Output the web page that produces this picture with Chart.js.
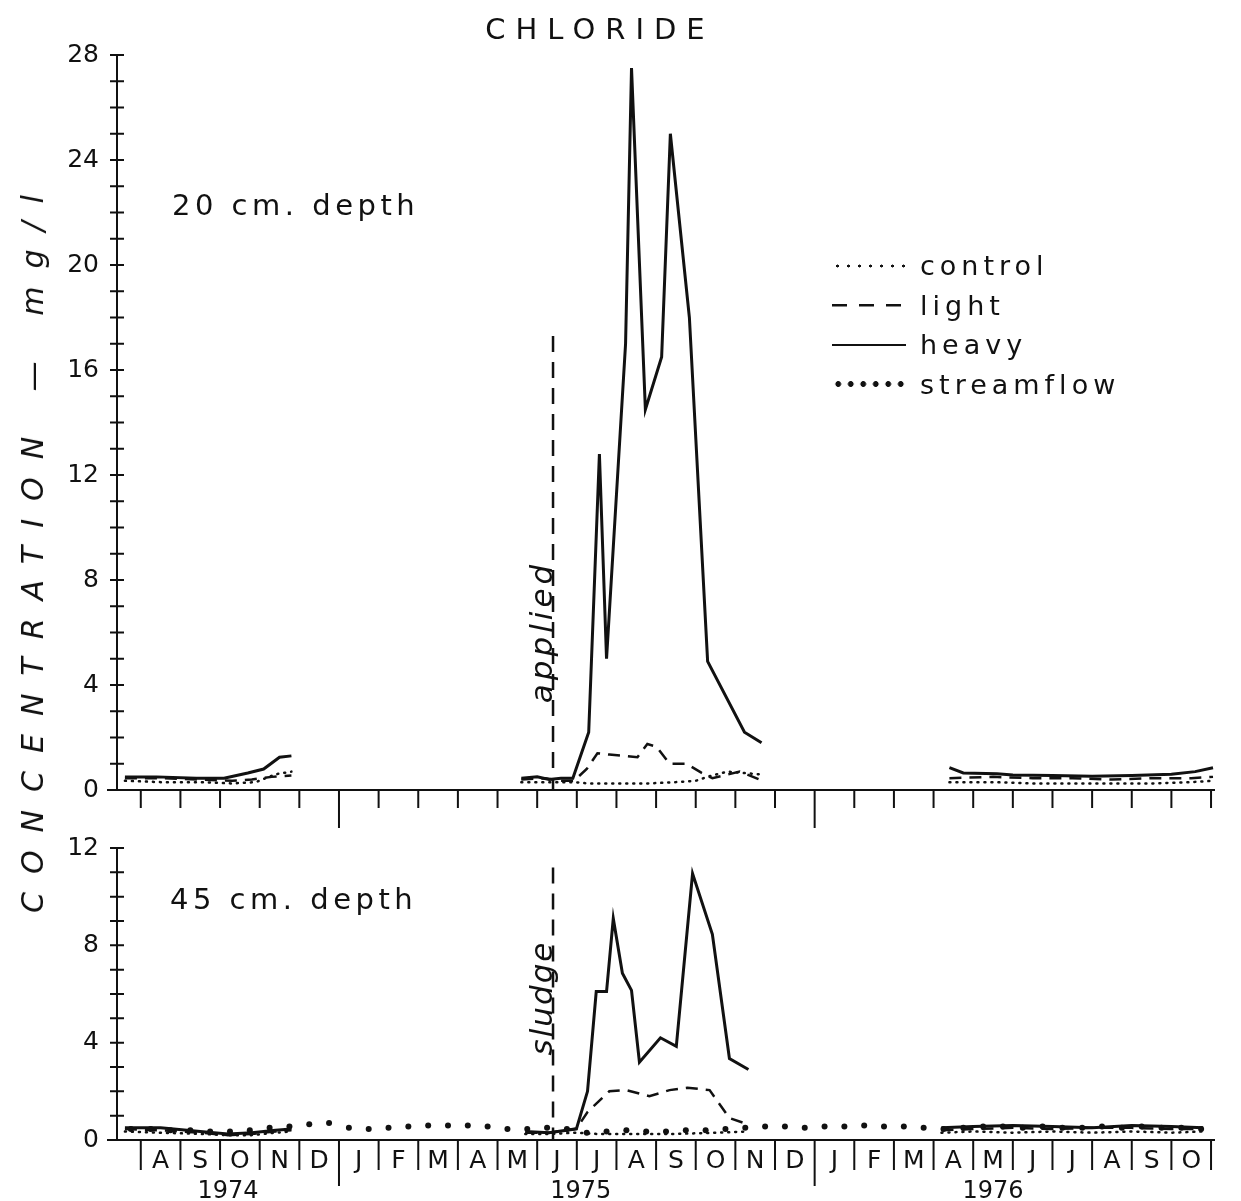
<!DOCTYPE html>
<html>
<head>
<meta charset="utf-8">
<title>Chloride</title>
<script src="https://cdn.jsdelivr.net/npm/chart.js@4.4.1/dist/chart.umd.min.js"></script>
<style>
	body { margin: 0; background: #fff; width: 1241px; height: 1201px; position: relative; overflow: hidden; font-family: 'DejaVu Sans', sans-serif; color: #111; }
	canvas { position: absolute; left: 0; }
	#chart20 { top: 0; }
	#chart45 { top: 815px; }
	.txt { position: absolute; white-space: nowrap; line-height: 1; }
	.rot { transform: translate(-50%, -50%) rotate(-90deg); font-style: italic; }
	.legend { position: absolute; left: 832px; top: 246px; }
	.legend div { height: 39.5px; display: flex; align-items: center; font-size: 27px; letter-spacing: 5px; }
	.legend span { display: inline-block; width: 74px; height: 6px; margin-right: 14px; }
	.s-control { background: radial-gradient(circle, #111 1.2px, transparent 1.8px) 0 0 / 11px 6px repeat-x; }
	.s-light { background: repeating-linear-gradient(to right, #111 0 15px, transparent 15px 27px) 0 2px / 100% 2.5px no-repeat; }
	.s-heavy { background: #111; height: 2.5px !important; }
	.s-stream { background: radial-gradient(circle, #111 2.6px, transparent 3.2px) 0 0 / 12.5px 6px repeat-x; }
</style>
</head>
<body>
<canvas id="chart20" width="1241" height="840"></canvas>
<canvas id="chart45" width="1241" height="386"></canvas>

<div class="txt" style="left:0; width:1200px; text-align:center; top:15px; font-size:29px; letter-spacing:10px;">CHLORIDE</div>
<div class="txt rot" style="left:33px; top:545px; font-size:30px; letter-spacing:18px;">CONCENTRATION — mg/l</div>
<div class="txt" style="left:172px; top:191px; font-size:29px; letter-spacing:4.5px;">20 cm. depth</div>
<div class="txt" style="left:170px; top:885px; font-size:29px; letter-spacing:4.5px;">45 cm. depth</div>
<div class="txt rot" style="left:541px; top:632px; font-size:31px; letter-spacing:4px;">applied</div>
<div class="txt rot" style="left:541px; top:998px; font-size:31px; letter-spacing:2px;">sludge</div>
<div class="legend">
	<div><span class="s-control"></span>control</div>
	<div><span class="s-light"></span>light</div>
	<div><span class="s-heavy"></span>heavy</div>
	<div><span class="s-stream"></span>streamflow</div>
</div>

<script>
// x values are months counted from Jan 1974 (0 = Jan 1 1974, 12 = Jan 1 1975, 24 = Jan 1 1976)
const axisStart = 6.4;
const axisEnd = 34.1;
const firstMonth = 7;
const monthLabels = ['A', 'S', 'O', 'N', 'D', 'J', 'F', 'M', 'A', 'M', 'J', 'J', 'A', 'S', 'O', 'N', 'D', 'J', 'F', 'M', 'A', 'M', 'J', 'J', 'A', 'S', 'O'];
const yearLabels = ['1974', '1975', '1976'];
const yearTickAt = [9.2, 18.1, 28.5];
const yTicks20 = [0, 4, 8, 12, 16, 20, 24, 28];
const yTicks45 = [0, 4, 8, 12];
const sludgeDate = 17.4;

// 20 cm depth, mg/l  ([month, value], null value = no samples)
const heavy20 = [
	[6.6, 0.5], [7.4, 0.5], [8.4, 0.45], [9.1, 0.45], [9.7, 0.65], [10.1, 0.8], [10.5, 1.25], [10.8, 1.3], [12, null],
	[16.6, 0.45], [17.0, 0.5], [17.3, 0.4], [17.6, 0.45], [17.9, 0.45], [18.3, 2.2], [18.57, 12.8], [18.75, 5.0], [19.23, 17.0],
	[19.38, 27.5], [19.73, 14.5], [20.14, 16.5], [20.36, 25.0], [20.84, 18.0], [21.3, 4.9], [22.23, 2.2], [22.66, 1.8], [24, null],
	[27.4, 0.85], [27.75, 0.65], [28.6, 0.62], [29.0, 0.57], [30.0, 0.55], [31.0, 0.52], [32.0, 0.55], [33.0, 0.6], [33.6, 0.7], [34.05, 0.85]
];
const light20 = [
	[6.6, 0.45], [7.5, 0.45], [8.5, 0.4], [9.3, 0.35], [9.8, 0.4], [10.3, 0.5], [10.8, 0.55], [12, null],
	[16.6, 0.4], [17.2, 0.45], [17.6, 0.35], [17.93, 0.35], [18.25, 0.8], [18.52, 1.4], [18.82, 1.35], [19.53, 1.25], [19.78, 1.75],
	[20.01, 1.65], [20.34, 1.0], [20.77, 1.0], [21.15, 0.65], [21.42, 0.45], [22.11, 0.7], [22.69, 0.35], [24, null],
	[27.4, 0.45], [28.5, 0.5], [29.5, 0.45], [30.5, 0.45], [31.5, 0.4], [32.5, 0.45], [33.5, 0.45], [34.05, 0.5]
];
const control20 = [
	[6.6, 0.35], [7.5, 0.3], [8.5, 0.3], [9.3, 0.25], [9.9, 0.3], [10.4, 0.6], [10.8, 0.7], [12, null],
	[16.6, 0.3], [17.3, 0.3], [17.93, 0.3], [18.3, 0.25], [19.0, 0.25], [19.8, 0.25], [20.5, 0.3], [21.0, 0.35], [21.4, 0.55],
	[21.8, 0.7], [22.2, 0.65], [22.6, 0.6], [24, null],
	[27.4, 0.3], [28.5, 0.3], [29.5, 0.25], [30.5, 0.25], [31.5, 0.25], [32.5, 0.25], [33.5, 0.3], [34.05, 0.35]
];

// 45 cm depth, mg/l
const heavy45 = [
	[6.6, 0.5], [7.5, 0.5], [8.5, 0.35], [9.2, 0.25], [9.8, 0.3], [10.4, 0.4], [10.8, 0.45], [12, null],
	[16.7, 0.35], [17.3, 0.3], [17.99, 0.46], [18.27, 2.0], [18.49, 6.1], [18.75, 6.1], [18.92, 9.1], [19.15, 6.85], [19.38, 6.15],
	[19.58, 3.2], [20.11, 4.2], [20.51, 3.85], [20.92, 10.95], [21.42, 8.45], [21.85, 3.35], [22.33, 2.9], [24, null],
	[27.2, 0.5], [28.0, 0.55], [29.0, 0.6], [30.0, 0.55], [31.0, 0.5], [32.0, 0.6], [33.0, 0.55], [33.8, 0.5]
];
const light45 = [
	[6.6, 0.45], [7.5, 0.4], [8.5, 0.3], [9.2, 0.2], [9.8, 0.25], [10.4, 0.35], [10.8, 0.4], [12, null],
	[16.7, 0.3], [17.3, 0.3], [17.99, 0.46], [18.27, 1.15], [18.82, 2.0], [19.25, 2.05], [19.83, 1.8], [20.34, 2.05], [20.79, 2.15],
	[21.35, 2.05], [21.85, 0.9], [22.31, 0.65], [24, null],
	[27.2, 0.4], [28.0, 0.45], [29.0, 0.5], [30.0, 0.45], [31.0, 0.5], [32.0, 0.5], [33.0, 0.45], [33.8, 0.45]
];
const control45 = [
	[6.6, 0.35], [7.5, 0.3], [8.5, 0.25], [9.2, 0.2], [9.8, 0.2], [10.4, 0.3], [10.8, 0.35], [12, null],
	[16.7, 0.25], [17.3, 0.25], [18.0, 0.3], [18.5, 0.25], [19.5, 0.25], [20.5, 0.25], [21.5, 0.3], [22.3, 0.35], [24, null],
	[27.2, 0.3], [28.0, 0.35], [29.0, 0.3], [30.0, 0.35], [31.0, 0.3], [32.0, 0.35], [33.0, 0.3], [33.8, 0.35]
];
const streamflow45 = [
	[6.75, 0.45], [7.25, 0.45], [7.75, 0.4], [8.25, 0.4], [8.75, 0.35], [9.25, 0.35], [9.75, 0.4], [10.25, 0.5], [10.75, 0.55],
	[11.25, 0.65], [11.75, 0.7], [12.25, 0.5], [12.75, 0.45], [13.25, 0.5], [13.75, 0.55], [14.25, 0.6], [14.75, 0.6], [15.25, 0.6],
	[15.75, 0.55], [16.25, 0.45], [16.75, 0.45], [17.25, 0.5], [17.75, 0.45], [18.25, 0.3], [18.75, 0.35], [19.25, 0.4], [19.75, 0.35],
	[20.25, 0.35], [20.75, 0.4], [21.25, 0.4], [21.75, 0.45], [22.25, 0.5], [22.75, 0.55], [23.25, 0.55], [23.75, 0.5], [24.25, 0.55],
	[24.75, 0.55], [25.25, 0.6], [25.75, 0.55], [26.25, 0.55], [26.75, 0.5], [27.25, 0.45], [27.75, 0.5], [28.25, 0.55], [28.75, 0.55],
	[29.25, 0.5], [29.75, 0.55], [30.25, 0.5], [30.75, 0.5], [31.25, 0.55], [31.75, 0.5], [32.25, 0.55], [32.75, 0.5], [33.25, 0.5], [33.75, 0.45]
];

const ink = '#111';
const fontFamily = "'DejaVu Sans', sans-serif";

function series(label, points, style) {
	return Object.assign({
		label: label,
		data: points.map(p => ({ x: p[0], y: p[1] })),
		borderColor: ink,
		backgroundColor: ink,
		pointRadius: 0,
		tension: 0,
		fill: false,
		spanGaps: false
	}, style);
}

const heavyStyle = { borderWidth: 3 };
const lightStyle = { borderWidth: 2.5, borderDash: [12, 8] };
const controlStyle = { borderWidth: 2.5, borderDash: [1, 6], borderCapStyle: 'round' };
const streamStyle = { showLine: false, pointRadius: 3, pointBorderWidth: 0, pointBackgroundColor: ink };

// axis lines, month ticks, "+" ticks on the y axis and the sludge marker
const frame = {
	id: 'frame',
	afterDatasetsDraw(chart, args, opts) {
		const { ctx, chartArea: a } = chart;
		const x = chart.scales.x;
		const y = chart.scales.y;
		const y0 = y.getPixelForValue(0);
		ctx.save();
		ctx.strokeStyle = ink;
		ctx.lineWidth = 2;
		ctx.beginPath();
		ctx.moveTo(a.left, y0);
		ctx.lineTo(a.right, y0);
		ctx.moveTo(a.left, y0);
		ctx.lineTo(a.left, y.getPixelForValue(y.max));
		for (let m = firstMonth; m <= Math.floor(axisEnd); m++) {
			const px = x.getPixelForValue(m);
			ctx.moveTo(px, y0);
			ctx.lineTo(px, y0 + (m % 12 === 0 ? opts.yearTick : opts.monthTick));
		}
		for (let v = 1; v <= y.max; v++) {
			const py = y.getPixelForValue(v);
			ctx.moveTo(a.left - 7, py);
			ctx.lineTo(a.left + 7, py);
		}
		ctx.moveTo(a.left - 10, y0);
		ctx.lineTo(a.left, y0);
		ctx.stroke();

		ctx.setLineDash([16, 10]);
		ctx.lineWidth = 2.5;
		ctx.beginPath();
		const mx = x.getPixelForValue(sludgeDate);
		ctx.moveTo(mx, y.getPixelForValue(opts.markerTop));
		ctx.lineTo(mx, y0);
		ctx.stroke();
		ctx.restore();
	}
};

function yScale(max, ticks) {
	return {
		type: 'linear',
		min: 0,
		max: max,
		grid: { display: false, drawTicks: false },
		border: { display: false },
		afterBuildTicks: s => { s.ticks = ticks.map(v => ({ value: v })); },
		ticks: { font: { family: fontFamily, size: 25 }, color: ink, padding: 18 },
		afterFit: s => { s.width = 117; }
	};
}

function baseOptions() {
	return {
		responsive: false,
		animation: false,
		events: [],
		plugins: { legend: { display: false }, tooltip: { enabled: false } }
	};
}

function createChart20() {
	const options = baseOptions();
	options.layout = { padding: { top: 55, right: 26, left: 0, bottom: 0 } };
	options.plugins.frame = { monthTick: 18, yearTick: 38, markerTop: 17.3 };
	options.scales = {
		x: {
			type: 'linear', min: axisStart, max: axisEnd,
			grid: { display: false, drawTicks: false },
			border: { display: false },
			ticks: { display: false },
			afterFit: s => { s.height = 50; }
		},
		y: yScale(28, yTicks20)
	};
	new Chart(document.getElementById('chart20'), {
		type: 'line',
		data: {
			datasets: [
				series('control', control20, controlStyle),
				series('light', light20, lightStyle),
				series('heavy', heavy20, heavyStyle)
			]
		},
		options: options,
		plugins: [frame]
	});
}

function createChart45() {
	const options = baseOptions();
	options.layout = { padding: { top: 13, right: 26, left: 0, bottom: 0 } };
	options.plugins.frame = { monthTick: 30, yearTick: 46, markerTop: 11.2 };
	options.scales = {
		x: {
			type: 'linear', min: axisStart, max: axisEnd,
			grid: { display: false, drawTicks: false },
			border: { display: false },
			afterBuildTicks: s => { s.ticks = monthLabels.map((_, i) => ({ value: firstMonth + i + 0.5 })); },
			ticks: {
				autoSkip: false, maxRotation: 0, minRotation: 0, padding: 6,
				font: { family: fontFamily, size: 25 }, color: ink,
				callback: (v, i) => monthLabels[i]
			},
			afterFit: s => { s.height = 36; }
		},
		years: {
			type: 'linear', position: 'bottom', min: axisStart, max: axisEnd,
			grid: { display: false, drawTicks: false },
			border: { display: false },
			afterBuildTicks: s => { s.ticks = yearTickAt.map(v => ({ value: v })); },
			ticks: {
				autoSkip: false, maxRotation: 0, minRotation: 0, padding: 1,
				font: { family: fontFamily, size: 24 }, color: ink,
				callback: (v, i) => yearLabels[i]
			},
			afterFit: s => { s.height = 25; }
		},
		y: yScale(12, yTicks45)
	};
	new Chart(document.getElementById('chart45'), {
		type: 'line',
		data: {
			datasets: [
				series('control', control45, controlStyle),
				series('light', light45, lightStyle),
				series('heavy', heavy45, heavyStyle),
				series('streamflow', streamflow45, streamStyle)
			]
		},
		options: options,
		plugins: [frame]
	});
}

function init() {
	createChart20();
	createChart45();
}

document.addEventListener('DOMContentLoaded', init);
</script>
</body>
</html>
